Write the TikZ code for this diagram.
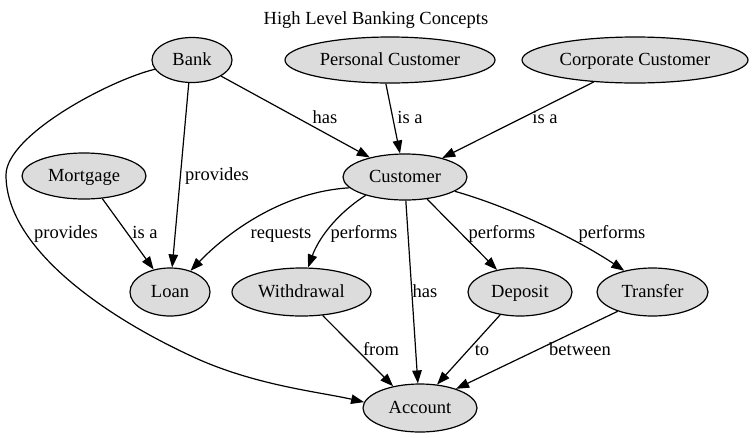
\documentclass[tikz,border=0pt]{standalone}
\usepackage{fontspec}
\setmainfont{Liberation Serif}
\usetikzlibrary{shapes.geometric,arrows.meta}
\definecolor{nodegray}{RGB}{220,220,220}
\begin{document}
\begin{tikzpicture}[x=1pt,y=-1pt,
  txt/.style={font=\fontsize{18.5}{20}\selectfont,text height=14pt,text depth=3pt},
  ent/.style={ellipse,draw=black,fill=nodegray,line width=1.2pt,inner sep=0pt,minimum height=46pt,txt},
  lbl/.style={inner sep=0pt,txt},
  conn/.style={draw=black,line width=1.2pt,-{Triangle[length=13pt,width=9.5pt]}}]
\useasboundingbox (0,0) rectangle (755,437);
% entities
\node[ent,minimum width=80pt,minimum height=45pt] (bank) at (192,60) {Bank};
\node[ent,minimum width=210pt] (pc) at (390,60) {Personal Customer};
\node[ent,minimum width=226pt] (cc) at (635,60) {Corporate Customer};
\node[ent,minimum width=124pt] (cust) at (405,177) {Customer};
\node[ent,minimum width=124pt] (mort) at (84,176) {Mortgage};
\node[ent,minimum width=80pt,minimum height=48pt] (loan) at (170,292) {Loan};
\node[ent,minimum width=139pt,minimum height=48pt] (wd) at (301.5,292) {Withdrawal};
\node[ent,minimum width=104pt,minimum height=48pt] (dep) at (520,292) {Deposit};
\node[ent,minimum width=111pt,minimum height=48pt] (tr) at (652.5,292) {Transfer};
\node[ent,minimum width=114pt,minimum height=48pt] (acct) at (420,408) {Account};
\coordinate (bendA) at (6,175);
\coordinate (bendB) at (200,360);
% connectors
\draw[conn] (bank.-29) -- (cust.151);
\draw[conn] (bank.-98) -- (loan.85);
\draw[conn] (bank.-166) .. controls (110,80) and (6,135) .. (bendA)
  .. controls (6,250) and (110,320) .. (bendB)
  .. controls (260,386) and (320,392) .. (acct.174);
\draw[conn] (pc.-100) -- (cust.102);
\draw[conn] (cc.-152) -- (cust.27);
\draw[conn] (mort.-51) -- (loan.126);
\draw[conn] (cust.-169) .. controls (280,192) and (225,235) .. (loan.46);
\draw[conn] (cust.-155) .. controls (335,215) and (318,240) .. (wd.75);
\draw[conn] (cust.-88) -- (acct.95);
\draw[conn] (cust.-45) -- (dep.136);
\draw[conn] (cust.-16) .. controls (510,207) and (575,238) .. (tr.143);
\draw[conn] (wd.-48) -- (acct.141);
\draw[conn] (dep.-131) -- (acct.54);
\draw[conn] (tr.-151) -- (acct.28.5);
% labels
\node[lbl] (l1) at (325,118) {has};
\node[lbl] (l2) at (410,118) {is a};
\node[lbl] (l3) at (545,118) {is a};
\node[lbl] (l4) at (217,175) {provides};
\node[lbl] (l5) at (66,233) {provides};
\node[lbl] (l6) at (145,233) {is a};
\node[lbl] (l7) at (281,233) {requests};
\node[lbl] (l8) at (364,233) {performs};
\node[lbl] (l9) at (502,233) {performs};
\node[lbl] (l10) at (612,233) {performs};
\node[lbl] (l11) at (425,292) {has};
\node[lbl] (l12) at (381,350) {from};
\node[lbl] (l13) at (482,350) {to};
\node[lbl] (l14) at (580,350) {between};
\node[lbl] (title) at (376,19) {High Level Banking Concepts};
\end{tikzpicture}
\end{document}
